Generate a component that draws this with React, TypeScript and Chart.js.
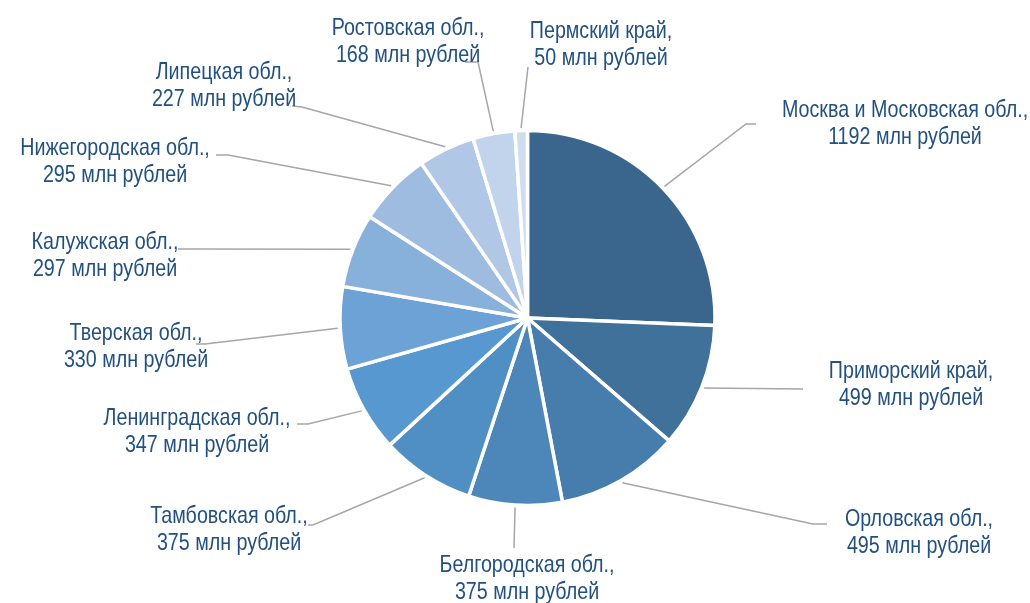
import React, { useEffect, useRef } from "react";
import { Chart, registerables } from "chart.js";

Chart.register(...registerables);

// ---- data ----
const regions: string[] = [
  "Москва и Московская обл.",
  "Приморский край",
  "Орловская обл.",
  "Белгородская обл.",
  "Тамбовская обл.",
  "Ленинградская обл.",
  "Тверская обл.",
  "Калужская обл.",
  "Нижегородская обл.",
  "Липецкая обл.",
  "Ростовская обл.",
  "Пермский край",
];
const values: number[] = [1192, 499, 495, 375, 375, 347, 330, 297, 295, 227, 168, 50];
const unit = "млн рублей";

// ---- styles ----
const sliceColors: string[] = [
  "#3a658c",
  "#40719b",
  "#467dac",
  "#4d86b9",
  "#508fc4",
  "#5698cf",
  "#6ca2d6",
  "#87b0db",
  "#9ebce0",
  "#b0c7e5",
  "#c2d4ec",
  "#d0ddef",
];
const textColor = "#23517f";
const leaderColor = "#a6a6a6";
const fontPx = 24;
const lineGap = 27;

// ---- label layout (text centre, leader elbow, leader end) ----
const labelLayout: { tx: number; ty: number; elbow: [number, number]; end: [number, number] }[] = [
  { tx: 905, ty: 110, elbow: [746, 124], end: [756, 124] },
  { tx: 911, ty: 371, elbow: [803, 389], end: [803, 389] },
  { tx: 919, ty: 519, elbow: [813, 524], end: [827, 524] },
  { tx: 527, ty: 565, elbow: [514, 548], end: [514, 548] },
  { tx: 229, ty: 516, elbow: [313, 525], end: [308, 525] },
  { tx: 197, ty: 418, elbow: [308, 424], end: [297, 424] },
  { tx: 136, ty: 333, elbow: [205, 344], end: [196, 344] },
  { tx: 105, ty: 242, elbow: [188, 249], end: [178, 249] },
  { tx: 115, ty: 148, elbow: [228, 155], end: [216, 155] },
  { tx: 224, ty: 72, elbow: [302, 107], end: [292, 106] },
  { tx: 408, ty: 28, elbow: [478, 62], end: [465, 62] },
  { tx: 601, ty: 31, elbow: [528, 67], end: [528, 67] },
];

const CENTER_X = 527.5;
const CENTER_Y = 318;
const RADIUS = 187.5;
const BORDER = 3.5;

function hasNarrow(ctx: CanvasRenderingContext2D): boolean {
  const probe = "Пермский край, abcdefgh 0123";
  ctx.font = "20px monospace";
  const a = ctx.measureText(probe).width;
  ctx.font = '20px "Liberation Sans Narrow", monospace';
  const b = ctx.measureText(probe).width;
  return Math.abs(a - b) > 0.5;
}

const labelPlugin = {
  id: "leaderLabels",
  afterDraw(chart: any) {
    const ctx: CanvasRenderingContext2D = chart.ctx;
    const meta = chart.getDatasetMeta(0);
    const narrow = hasNarrow(ctx);
    meta.data.forEach((arc: any, i: number) => {
      const lay = labelLayout[i];
      if (!lay) return;
      const { x, y, startAngle, endAngle, outerRadius } = arc.getProps(
        ["x", "y", "startAngle", "endAngle", "outerRadius"],
        true
      );
      const mid = (startAngle + endAngle) / 2;
      const r = outerRadius + 2.5;
      const sx = x + Math.cos(mid) * r;
      const sy = y + Math.sin(mid) * r;
      ctx.save();
      ctx.strokeStyle = leaderColor;
      ctx.lineWidth = 1.5;
      ctx.beginPath();
      ctx.moveTo(sx, sy);
      ctx.lineTo(lay.elbow[0], lay.elbow[1]);
      ctx.lineTo(lay.end[0], lay.end[1]);
      ctx.stroke();
      ctx.restore();

      const lines = [`${regions[i]},`, `${values[i]} ${unit}`];
      ctx.save();
      ctx.fillStyle = textColor;
      ctx.textAlign = "center";
      ctx.textBaseline = "middle";
      lines.forEach((t, k) => {
        const ty = lay.ty + k * lineGap;
        if (narrow) {
          ctx.font = `${fontPx}px "Liberation Sans Narrow", "Arial Narrow", sans-serif`;
          ctx.fillText(t, lay.tx, ty);
        } else {
          ctx.save();
          ctx.font = `${fontPx}px "Liberation Sans", Arial, sans-serif`;
          ctx.translate(lay.tx, ty);
          ctx.scale(0.82, 1);
          ctx.fillText(t, 0, 0);
          ctx.restore();
        }
      });
      ctx.restore();
    });
  },
};

export default function App() {
  const ref = useRef<HTMLCanvasElement | null>(null);
  useEffect(() => {
    if (!ref.current) return;
    const side = 2 * RADIUS + BORDER;
    const left = CENTER_X - side / 2;
    const top = CENTER_Y - side / 2;
    const chart = new Chart(ref.current, {
      type: "pie",
      data: {
        labels: regions,
        datasets: [
          {
            data: values,
            backgroundColor: sliceColors,
            borderColor: "#ffffff",
            borderWidth: BORDER,
            hoverBorderWidth: BORDER,
            hoverOffset: 0,
          },
        ],
      },
      options: {
        responsive: false,
        animation: false,
        events: [],
        layout: {
          padding: {
            left: left,
            right: 1030 - left - side,
            top: top,
            bottom: 603 - top - side,
          },
        },
        plugins: {
          legend: { display: false },
          tooltip: { enabled: false },
        },
      },
      plugins: [labelPlugin],
    });
    return () => chart.destroy();
  }, []);
  return (
    <div style={{ position: "fixed", left: 0, top: 0, width: 1030, height: 603, background: "#ffffff" }}>
      <canvas ref={ref} width={1030} height={603} style={{ display: "block", width: 1030, height: 603 }} />
    </div>
  );
}
